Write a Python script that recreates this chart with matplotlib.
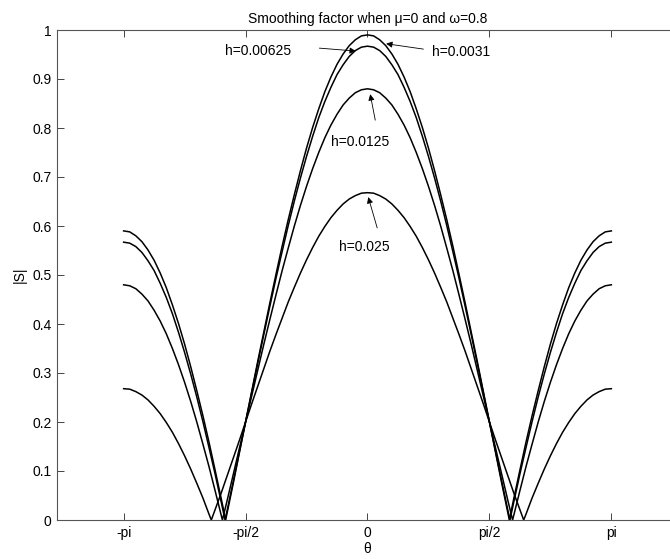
import numpy as np
import matplotlib
matplotlib.use('Agg')
import matplotlib.pyplot as plt

plt.rcParams['font.family'] = ['Liberation Sans', 'DejaVu Sans']

# sample grid on [0, pi] (curves are symmetric in theta)
THETA_HALF = np.arange(41) * np.pi / 40

# |S| at the grid points above
S_0031 = [0.990, 0.988, 0.980, 0.968, 0.951, 0.930, 0.904, 0.874, 0.839, 0.801, 0.759,
          0.713, 0.664, 0.613, 0.559, 0.502, 0.444, 0.384, 0.324, 0.262, 0.200,
          0.138, 0.076, 0.016, 0.044, 0.102, 0.159, 0.213, 0.264, 0.313, 0.359,
          0.401, 0.439, 0.474, 0.504, 0.530, 0.551, 0.568, 0.580, 0.588, 0.590]
S_00625 = [0.967, 0.965, 0.958, 0.946, 0.929, 0.909, 0.883, 0.854, 0.821, 0.783, 0.742,
           0.698, 0.651, 0.601, 0.548, 0.494, 0.437, 0.379, 0.320, 0.260, 0.200,
           0.140, 0.080, 0.021, 0.037, 0.094, 0.148, 0.201, 0.251, 0.298, 0.342,
           0.383, 0.421, 0.454, 0.483, 0.509, 0.529, 0.546, 0.558, 0.565, 0.567]
S_0125 = [0.880, 0.878, 0.872, 0.861, 0.847, 0.828, 0.806, 0.780, 0.750, 0.717, 0.681,
          0.642, 0.600, 0.555, 0.509, 0.460, 0.410, 0.359, 0.306, 0.253, 0.200,
          0.147, 0.094, 0.041, 0.010, 0.060, 0.109, 0.155, 0.200, 0.242, 0.281,
          0.317, 0.350, 0.380, 0.406, 0.428, 0.447, 0.461, 0.472, 0.478, 0.480]
S_025 = [0.668, 0.667, 0.662, 0.655, 0.645, 0.632, 0.617, 0.599, 0.579, 0.556, 0.531,
         0.504, 0.475, 0.445, 0.412, 0.379, 0.345, 0.309, 0.273, 0.237, 0.200,
         0.163, 0.127, 0.091, 0.055, 0.021, 0.012, 0.045, 0.075, 0.104, 0.131,
         0.156, 0.179, 0.199, 0.217, 0.232, 0.245, 0.255, 0.262, 0.267, 0.268]

# where each curve touches zero (theta > 0)
ZEROS = [1.827, 1.835, 1.869, 2.012]
SERIES = [S_0031, S_00625, S_0125, S_025]

LABELS = ['h=0.0031', 'h=0.00625', 'h=0.0125', 'h=0.025']
# (text x, text y, tail x, tail y, tip x, tip y) in data units
ANNOT = [
    (1.21, 0.955, 0.72, 0.961, 0.24, 0.972),
    (-1.41, 0.957, -0.62, 0.963, -0.15, 0.957),
    (-0.09, 0.771, 0.10, 0.816, 0.035, 0.869),
    (-0.04, 0.557, 0.125, 0.596, 0.01, 0.659),
]

XTICKS = [-np.pi, -np.pi / 2, 0, np.pi / 2, np.pi]
XTICKLABELS = ['-pi', '-pi/2', '0', 'pi/2', 'pi']
YTICKS = np.arange(11) / 10
YTICKLABELS = ['0', '0.1', '0.2', '0.3', '0.4', '0.5', '0.6', '0.7', '0.8', '0.9', '1']


def full_curve(vals, z):
    th = np.append(THETA_HALF, z)
    s = np.append(vals, 0.0)
    order = np.argsort(th)
    th, s = th[order], s[order]
    return np.concatenate([-th[::-1], th[1:]]), np.concatenate([s[::-1], s[1:]])


fig = plt.figure(figsize=(6.7, 5.59), dpi=100)
ax = fig.add_axes([57 / 670, 39 / 559, 621 / 670, 490 / 559])

for vals, z in zip(SERIES, ZEROS):
    th, s = full_curve(vals, z)
    ax.plot(th, s, color='k', lw=1.1)

for lab, (tx, ty, ax0, ay0, ax1, ay1) in zip(LABELS, ANNOT):
    ax.text(tx, ty, lab, ha='center', va='center', fontsize=10)
    ax.annotate('', xy=(ax1, ay1), xytext=(ax0, ay0),
                arrowprops=dict(arrowstyle='-|>', color='k', lw=0.6,
                                mutation_scale=9, shrinkA=0, shrinkB=0))

ax.set_xlim(-4, 4)
ax.set_ylim(0, 1)
ax.set_xticks(XTICKS)
ax.set_xticklabels(XTICKLABELS)
ax.set_yticks(YTICKS)
ax.set_yticklabels(YTICKLABELS)
ax.tick_params(direction='in', length=5, width=0.7, top=True, right=True,
               labelsize=10, color='#444444', pad=4)
for sp in ax.spines.values():
    sp.set_color('#555555')
    sp.set_linewidth(0.8)

ax.set_title('Smoothing factor when \u03bc=0 and \u03c9=0.8', fontsize=10, pad=5)
ax.set_xlabel('\u03b8', fontsize=10, labelpad=2)
ax.set_ylabel('|S|', fontsize=10, labelpad=4)

fig.savefig('out.png', dpi=100)
